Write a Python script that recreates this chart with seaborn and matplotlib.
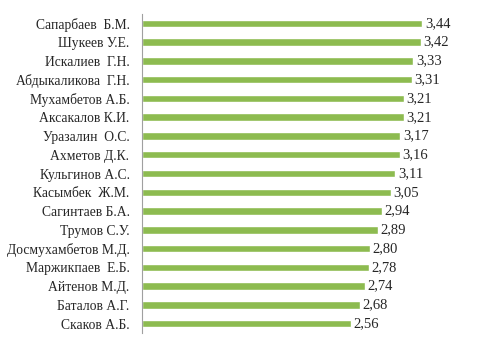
import matplotlib
matplotlib.use("Agg")
import matplotlib.pyplot as plt
import seaborn as sns
import pandas as pd
import numpy as np

names = [
    "Сапарбаев  Б.М.", "Шукеев У.Е.", "Искалиев  Г.Н.", "Абдыкаликова  Г.Н.",
    "Мухамбетов А.Б.", "Аксакалов К.И.", "Уразалин  О.С.", "Ахметов Д.К.",
    "Кульгинов А.С.", "Касымбек  Ж.М.", "Сагинтаев Б.А.", "Трумов С.У.",
    "Досмухамбетов М.Д.", "Маржикпаев  Е.Б.", "Айтенов М.Д.", "Баталов А.Г.",
    "Скаков А.Б.",
]
scores = [3.44, 3.42, 3.33, 3.31, 3.21, 3.21, 3.17, 3.16, 3.11, 3.05,
          2.94, 2.89, 2.80, 2.78, 2.74, 2.68, 2.56]

df = pd.DataFrame({"name": names, "score": scores})

sns.set_style("white")
plt.rcParams["font.family"] = ["Liberation Serif", "DejaVu Serif"]

fig = plt.figure(figsize=(4.8, 3.45), dpi=100)
ax = fig.add_axes([142 / 480, 1 - 333 / 345, (468 - 142) / 480, (333 - 14) / 345])

sns.barplot(data=df, x="score", y="name", orient="h", color="#8DBB50",
            saturation=1, width=0.4, ax=ax)

ax.set_xlim(0, 4.0)
ax.set_ylim(len(names) - 0.5, -0.5)
ax.set_xlabel("")
ax.set_ylabel("")
ax.set_xticks([])

for s in ["top", "right", "bottom"]:
    ax.spines[s].set_visible(False)
ax.spines["left"].set_color("#A0A0A0")
ax.spines["left"].set_linewidth(0.8)

ax.tick_params(axis="y", which="major", length=0, pad=9, labelsize=9.8)
ax.set_yticks(np.arange(-0.5, len(names), 1.0), minor=True)
ax.tick_params(axis="y", which="minor", length=4, color="#A0A0A0", width=0.8)

for i, v in enumerate(scores):
    ax.text(v + 0.03, i, f"{v:.2f}".replace(".", ","), va="center", ha="left",
            fontsize=10.5)

fig.savefig("out.png", dpi=100)
